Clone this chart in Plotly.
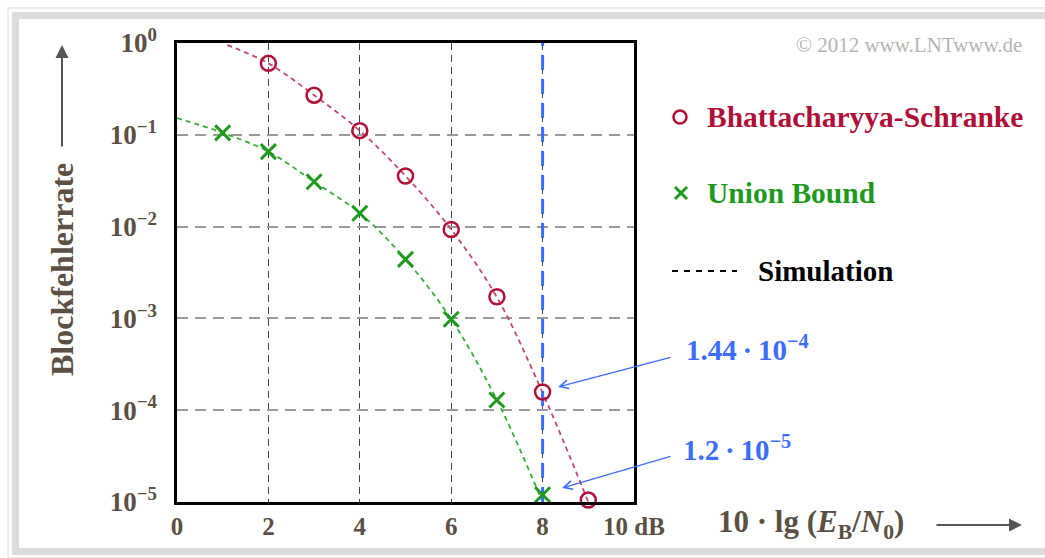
import plotly.graph_objects as go

# ---------------- data ----------------
bhat_x = [2, 3, 4, 5, 6, 7, 8, 9]
bhat_y = [0.60, 0.27, 0.111, 0.0356, 0.0093, 0.00172, 1.58e-4, 1.05e-5]

union_x = [1, 2, 3, 4, 5, 6, 7, 8]
union_y = [0.105, 0.0655, 0.0308, 0.0140, 0.0044, 0.00098, 1.29e-4, 1.2e-5]

sim_bhat_x = [1.1, 2, 3, 4, 5, 6, 7, 8, 9]
sim_bhat_y = [0.95, 0.60, 0.27, 0.111, 0.0356, 0.0093, 0.0017, 1.55e-4, 1.0e-5]

sim_union_x = [0, 1, 2, 3, 4, 5, 6, 7, 8]
sim_union_y = [0.152, 0.105, 0.0655, 0.0308, 0.0140, 0.0044, 0.00098, 1.29e-4, 1.0e-5]

marker_x = [8, 8]
marker_y = [1e-5, 1]

x_ticks = [0, 2, 4, 6, 8, 10]
x_ticktext = ["0", "2", "4", "6", "8", "10 dB"]
y_ticks = [1, 1e-1, 1e-2, 1e-3, 1e-4, 1e-5]
y_ticktext = ["10<sup>0</sup>", "10<sup>\u22121</sup>", "10<sup>\u22122</sup>",
              "10<sup>\u22123</sup>", "10<sup>\u22124</sup>", "10<sup>\u22125</sup>"]

# ---------------- layout helpers ----------------
W, H = 1045, 558
L, R, T, B = 177, 634, 43, 502
def px(x):
    return (x - L) / (R - L)
def py(y):
    return (B - y) / (B - T)

SERIF = "Liberation Serif, Times New Roman, serif"
TXT = "#5b5043"
RED = "#b01038"
GREEN = "#1f9a1f"
BLUE = "#3d6dff"

fig = go.Figure()

fig.add_trace(go.Scatter(x=sim_union_x, y=sim_union_y, mode="lines",
                         line=dict(color="#35b035", width=1.8, dash="5px,4px", shape="spline"),
                         hoverinfo="skip", showlegend=False))
fig.add_trace(go.Scatter(x=sim_bhat_x, y=sim_bhat_y, mode="lines",
                         line=dict(color="#c24a66", width=1.8, dash="5px,4px", shape="spline"),
                         hoverinfo="skip", showlegend=False))
fig.add_trace(go.Scatter(x=marker_x, y=marker_y, mode="lines",
                         line=dict(color=BLUE, width=3, dash="15px,9px"),
                         hoverinfo="skip", showlegend=False))
fig.add_trace(go.Scatter(x=union_x, y=union_y, mode="markers", cliponaxis=False,
                         marker=dict(symbol="x-thin-open", size=15, color=GREEN,
                                     line=dict(color=GREEN, width=3)),
                         showlegend=False))
fig.add_trace(go.Scatter(x=bhat_x, y=bhat_y, mode="markers", cliponaxis=False,
                         marker=dict(symbol="circle-open", size=15, color=RED,
                                     line=dict(color=RED, width=2.5)),
                         showlegend=False))

fig.update_xaxes(range=[0, 10], tickvals=x_ticks, ticktext=x_ticktext,
                 showline=True, mirror=True, linecolor="black", linewidth=2.5,
                 showgrid=True, gridcolor="#444", gridwidth=1.2, griddash="7px,5px",
                 zeroline=False, ticks="", ticklabelstandoff=0,
                 tickfont=dict(family=SERIF, size=25, color=TXT, weight="bold"))
fig.update_yaxes(type="log", range=[-5, 0], tickvals=y_ticks, ticktext=y_ticktext,
                 showline=True, mirror=True, linecolor="black", linewidth=2.5,
                 showgrid=True, gridcolor="#9a9a9a", gridwidth=2, griddash="11px,7px",
                 zeroline=False, ticks="", ticklabelstandoff=12,
                 tickfont=dict(family=SERIF, size=27, color=TXT, weight="bold"))

shapes = [
    # outer frame
    dict(type="rect", xref="paper", yref="paper",
         x0=px(15.5), x1=px(1060), y0=py(15.5), y1=py(551.5),
         line=dict(color="#dcdcdc", width=7), layer="below"),
    dict(type="rect", xref="paper", yref="paper",
         x0=px(8), x1=px(1070), y0=py(8), y1=py(558),
         line=dict(color="#e6e6e6", width=1.5), layer="below"),
    # legend glyphs
    dict(type="circle", xref="paper", yref="paper",
         x0=px(673.5), x1=px(686.5), y0=py(123.5), y1=py(110.5),
         line=dict(color=RED, width=2.5)),
    dict(type="line", xref="paper", yref="paper",
         x0=px(675), x1=px(687), y0=py(187), y1=py(199), line=dict(color=GREEN, width=3)),
    dict(type="line", xref="paper", yref="paper",
         x0=px(675), x1=px(687), y0=py(199), y1=py(187), line=dict(color=GREEN, width=3)),
    dict(type="line", xref="paper", yref="paper",
         x0=px(672), x1=px(737), y0=py(271), y1=py(271),
         line=dict(color="black", width=2, dash="6px,6px")),
]

ann = []
def text(x, y, s, size, color, xanchor="left", bold=True, angle=0):
    ann.append(dict(xref="paper", yref="paper", x=px(x), y=py(y), text=s,
                    showarrow=False, xanchor=xanchor, yanchor="middle", textangle=angle,
                    font=dict(family=SERIF, size=size, color=color,
                              weight="bold" if bold else "normal")))

text(1024, 45, "\u00a9 2012 www.LNTwww.de", 21, "#b5b5b5", xanchor="right", bold=False)
text(705, 117, "Bhattacharyya-Schranke", 29.5, RED)
text(705, 193, "Union Bound", 29.5, GREEN)
text(756, 271, "Simulation", 29, "black")
text(684, 348, "1.44\u2009\u00b7\u200910<sup>\u22124</sup>", 29, BLUE)
text(681, 448, "1.2\u2009\u00b7\u200910<sup>\u22125</sup>", 29, BLUE)
text(716, 524, "10 \u00b7 lg (<i>E</i><sub>B</sub>/<i>N</i><sub>0</sub>)", 31, TXT)
text(62, 270, "Blockfehlerrate", 32, TXT, xanchor="center", angle=-90)

def arrow(tx, ty, axp, ayp, color, width, head, size):
    ann.append(dict(xref="paper", yref="paper", x=px(tx), y=py(ty), text="",
                    showarrow=True, ax=axp, ay=ayp, arrowhead=head, arrowsize=size,
                    arrowwidth=width, arrowcolor=color, standoff=0, startstandoff=0))

arrow(558, 387, 114, -30, BLUE, 1.3, 5, 1.3)
arrow(562, 488, 110, -32, BLUE, 1.3, 5, 1.3)
arrow(62, 45, 0, 103, "#555555", 2, 2, 1.3)
arrow(1022, 525, -87, 0, "#555555", 2, 2, 1.3)

fig.update_layout(width=W, height=H, autosize=False,
                  margin=dict(l=L, r=W - R, t=T, b=H - B),
                  paper_bgcolor="white", plot_bgcolor="white",
                  shapes=shapes, annotations=ann, showlegend=False)

fig.write_html("out.html")
